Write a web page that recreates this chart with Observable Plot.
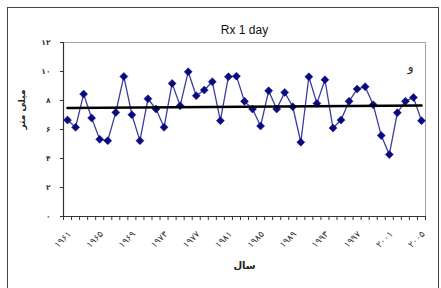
<!DOCTYPE html>
<html>
<head>
<meta charset="utf-8">
<script src="https://cdn.jsdelivr.net/npm/d3@7"></script>
<script src="https://cdn.jsdelivr.net/npm/@observablehq/plot@0.6"></script>
<style>
  html, body { margin: 0; padding: 0; background: #fff; }
  #wrap { position: relative; width: 441px; height: 288px; overflow: hidden; }
  #border { position: absolute; left: 7px; top: 7px; width: 430px; height: 300px; border: 1px solid #444; pointer-events: none; }
</style>
</head>
<body>
<div id="wrap"><div id="border"></div></div>
<script>
const years = d3.range(1961, 2006);
const values = [6.65, 6.15, 8.44, 6.79, 5.32, 5.23, 7.18, 9.66, 7.02, 5.23,
                8.12, 7.41, 6.15, 9.18, 7.64, 9.98, 8.33, 8.72, 9.29, 6.61,
                9.64, 9.68, 7.94, 7.41, 6.24, 8.67, 7.41, 8.56, 7.57, 5.12,
                9.64, 7.80, 9.43, 6.10, 6.65, 7.94, 8.79, 8.95, 7.71, 5.58,
                4.27, 7.16, 7.94, 8.21, 6.61];
const trendYears = [1961, 2005];
const trendValues = [7.48, 7.66];
const yTicks = [0, 2, 4, 6, 8, 10, 12];
const xLabelYears = [1961, 1965, 1969, 1973, 1977, 1981, 1985, 1989, 1993, 1997, 2001, 2005];
const title = "Rx 1 day";
const xTitle = "سال";
const yTitle = "میلی متر";
const panelLetter = "و";

const fa = d => String(d).replace(/[0-9]/g, c => "۰۱۲۳۴۵۶۷۸۹"[+c]);
const data = years.map((y, i) => ({year: y, value: values[i]}));
const trend = trendYears.map((y, i) => ({year: y, value: trendValues[i]}));
const boundaries = d3.range(years[0] - 0.5, years[years.length - 1] + 1, 1);
const faFont = "DejaVu Sans, sans-serif";

const chart = Plot.plot({
  width: 441,
  height: 288,
  marginLeft: 63,
  marginRight: 16,
  marginTop: 42,
  marginBottom: 72,
  style: {background: "transparent", fontFamily: "Liberation Sans, Arial, sans-serif"},
  x: {domain: [years[0] - 0.5, years[years.length - 1] + 0.5], axis: null},
  y: {domain: [0, 12], axis: null},
  marks: [
    Plot.frame({stroke: "#a5a5a5"}),
    Plot.axisY({ticks: yTicks, tickSize: 3, tickPadding: 10, tickFormat: fa, fontSize: 7.5, fontFamily: faFont, fontWeight: "bold", stroke: "#333", fill: "#333", label: null}),
    Plot.axisX({ticks: boundaries, tickSize: 4, tickFormat: () => "", stroke: "#333", label: null}),
    Plot.axisX({ticks: xLabelYears, tickSize: 0, tickPadding: 16, tickRotate: -45, tickFormat: fa, fontSize: 9, fontFamily: faFont, fill: "#333", dx: 2, label: null}),
    Plot.ruleX([years[0] - 0.5], {stroke: "#333", strokeWidth: 1.2}),
    Plot.ruleY([0], {stroke: "#333", strokeWidth: 1.2}),
    Plot.line(data, {x: "year", y: "value", stroke: "#3b3b9c", strokeWidth: 1.3}),
    Plot.dot(data, {x: "year", y: "value", symbol: "diamond2", r: 3.6, fill: "#0a0a80", stroke: "#0a0a80", strokeWidth: 0.5}),
    Plot.line(trend, {x: "year", y: "value", stroke: "#000", strokeWidth: 2.6}),
    Plot.text([title], {frameAnchor: "top", dy: -17, fontSize: 12, fill: "#111"}),
    Plot.text([panelLetter], {frameAnchor: "top-right", dx: -12, dy: 20, fontSize: 12, fontFamily: faFont, fill: "#222"}),
    Plot.text([xTitle], {frameAnchor: "bottom", dy: 52, fontSize: 10, fontFamily: faFont, fontWeight: "bold", fill: "#222"}),
    Plot.text([yTitle], {frameAnchor: "left", dx: -41, dy: 0, rotate: -90, fontSize: 9, fontFamily: faFont, fontWeight: "bold", fill: "#222"})
  ]
});
document.getElementById("wrap").prepend(chart);
</script>
</body>
</html>
